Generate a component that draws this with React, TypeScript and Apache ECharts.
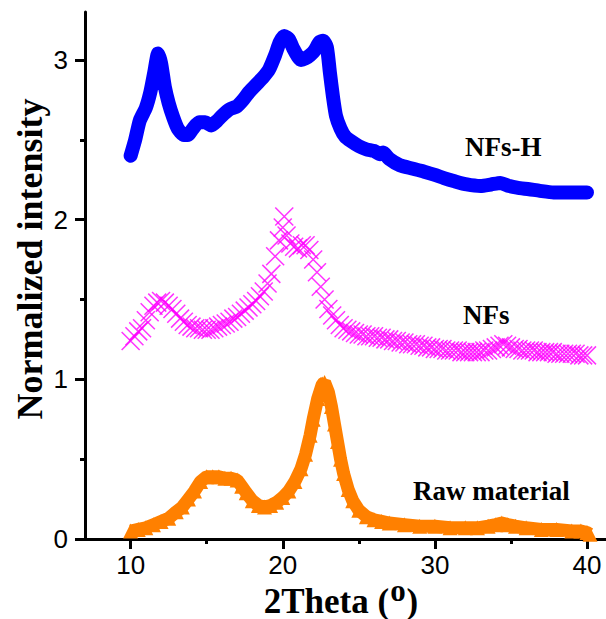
import React, { useEffect, useRef } from "react";
import * as echarts from "echarts";

const seriesNames = ["NFs-H", "NFs", "Raw material"];

const nfsHX = [10.0, 10.3, 10.6, 11.0, 11.3, 11.55, 11.8, 12.0, 12.25, 12.5, 12.8, 13.1, 13.5, 13.75, 14.1, 14.5, 14.9, 15.3, 15.7, 16.0, 16.5, 17.0, 17.4, 17.8, 18.3, 18.7, 19.1, 19.5, 19.8, 20.1, 20.4, 20.7, 21.0, 21.2, 21.5, 21.8, 22.1, 22.4, 22.65, 22.9, 23.1, 23.3, 23.5, 23.8, 24.1, 24.5, 25.0, 25.5, 26.0, 26.4, 26.6, 27.0, 27.7, 28.5, 29.3, 30.0, 30.6, 31.3, 32.1, 33.0, 33.7, 34.3, 34.9, 35.4, 36.2, 36.9, 37.8, 38.7, 39.4, 40.0];
const nfsHY = [2.40, 2.50, 2.62, 2.70, 2.80, 2.92, 3.04, 2.98, 2.83, 2.73, 2.64, 2.57, 2.53, 2.53, 2.57, 2.61, 2.61, 2.59, 2.62, 2.65, 2.69, 2.71, 2.75, 2.80, 2.85, 2.89, 2.94, 3.03, 3.11, 3.15, 3.13, 3.07, 3.02, 3.00, 3.01, 3.03, 3.06, 3.11, 3.12, 3.08, 2.92, 2.77, 2.65, 2.57, 2.52, 2.49, 2.46, 2.44, 2.43, 2.41, 2.42, 2.38, 2.34, 2.32, 2.30, 2.28, 2.26, 2.24, 2.22, 2.21, 2.22, 2.23, 2.21, 2.20, 2.19, 2.18, 2.17, 2.17, 2.17, 2.17];

const nfsX = [10.0, 10.25, 10.5, 10.75, 11.0, 11.25, 11.5, 11.75, 12.0, 12.25, 12.5, 12.75, 13.0, 13.25, 13.5, 13.75, 14.0, 14.25, 14.5, 14.75, 15.0, 15.25, 15.5, 15.75, 16.0, 16.25, 16.5, 16.75, 17.0, 17.25, 17.5, 17.75, 18.0, 18.25, 18.5, 18.75, 19.0, 19.25, 19.5, 19.75, 20.0, 20.1, 20.25, 20.5, 20.75, 21.0, 21.25, 21.5, 21.75, 22.0, 22.25, 22.5, 22.75, 23.0, 23.25, 23.5, 23.75, 24.0, 24.25, 24.5, 24.75, 25.0, 25.25, 25.5, 25.75, 26.0, 26.25, 26.5, 26.75, 27.0, 27.25, 27.5, 27.75, 28.0, 28.25, 28.5, 28.75, 29.0, 29.25, 29.5, 29.75, 30.0, 30.25, 30.5, 30.75, 31.0, 31.25, 31.5, 31.75, 32.0, 32.25, 32.5, 32.75, 33.0, 33.25, 33.5, 33.75, 34.0, 34.25, 34.5, 34.75, 35.0, 35.25, 35.5, 35.75, 36.0, 36.25, 36.5, 36.75, 37.0, 37.25, 37.5, 37.75, 38.0, 38.25, 38.5, 38.75, 39.0, 39.25, 39.5, 39.75, 40.0];
const nfsY = [1.24, 1.27, 1.30, 1.32, 1.37, 1.42, 1.46, 1.48, 1.49, 1.48, 1.46, 1.44, 1.41, 1.38, 1.36, 1.34, 1.33, 1.32, 1.32, 1.31, 1.31, 1.31, 1.32, 1.33, 1.34, 1.35, 1.36, 1.38, 1.39, 1.41, 1.43, 1.45, 1.47, 1.49, 1.52, 1.55, 1.60, 1.66, 1.77, 1.87, 1.95, 2.02, 1.90, 1.85, 1.83, 1.82, 1.84, 1.84, 1.81, 1.75, 1.67, 1.58, 1.50, 1.44, 1.40, 1.37, 1.34, 1.32, 1.31, 1.30, 1.29, 1.28, 1.28, 1.27, 1.27, 1.27, 1.26, 1.26, 1.25, 1.25, 1.24, 1.24, 1.23, 1.23, 1.22, 1.22, 1.22, 1.21, 1.21, 1.20, 1.20, 1.19, 1.19, 1.19, 1.18, 1.18, 1.18, 1.18, 1.17, 1.17, 1.17, 1.17, 1.17, 1.17, 1.18, 1.18, 1.19, 1.20, 1.21, 1.22, 1.21, 1.20, 1.19, 1.19, 1.18, 1.18, 1.18, 1.18, 1.17, 1.17, 1.17, 1.17, 1.17, 1.16, 1.16, 1.16, 1.16, 1.16, 1.16, 1.15, 1.15, 1.15];

const rawX = [10.0, 10.5, 11.0, 11.5, 12.0, 12.5, 13.0, 13.4, 13.8, 14.2, 14.6, 15.0, 15.4, 15.8, 16.2, 16.6, 17.0, 17.3, 17.6, 18.0, 18.4, 18.8, 19.2, 19.6, 20.0, 20.4, 20.8, 21.2, 21.5, 21.8, 22.0, 22.3, 22.6, 22.75, 23.0, 23.2, 23.4, 23.6, 23.8, 24.0, 24.3, 24.6, 25.0, 25.5, 26.0, 26.5, 27.0, 28.0, 29.0, 30.0, 31.0, 32.0, 32.8, 33.5, 34.0, 34.4, 34.8, 35.3, 36.0, 37.0, 38.0, 39.0, 39.6, 40.0, 40.2];
const rawY = [0.05, 0.06, 0.07, 0.09, 0.11, 0.13, 0.17, 0.20, 0.25, 0.30, 0.36, 0.39, 0.39, 0.39, 0.38, 0.38, 0.37, 0.33, 0.29, 0.24, 0.21, 0.20, 0.21, 0.23, 0.26, 0.30, 0.36, 0.44, 0.53, 0.65, 0.75, 0.88, 0.97, 0.98, 0.92, 0.83, 0.72, 0.61, 0.50, 0.41, 0.31, 0.24, 0.18, 0.14, 0.12, 0.11, 0.10, 0.09, 0.08, 0.08, 0.07, 0.07, 0.07, 0.08, 0.09, 0.10, 0.09, 0.08, 0.07, 0.06, 0.06, 0.05, 0.05, 0.04, 0.03];

const xTickValues = [10, 20, 30, 40];
const xMinorTickValues = [15, 25, 35];
const yTickValues = [0, 1, 2, 3];
const yMinorTickValues = [0.5, 1.5, 2.5];

const zip = (xs: number[], ys: number[]) => xs.map((x, i) => [x, ys[i]]);

const SANS = "'Liberation Sans', Arial, sans-serif";
const SERIF = "'Liberation Serif', 'Times New Roman', serif";

export default function App() {
  const ref = useRef<HTMLDivElement>(null);
  useEffect(() => {
    if (!ref.current) return;
    const chart = echarts.init(ref.current, undefined, { renderer: "svg" });
    const axisCommonX = { type: "value", min: 7, max: 41.25, splitLine: { show: false } };
    const axisCommonY = { type: "value", min: 0, max: 3.3, splitLine: { show: false } };
    const labelStyle = { color: "#000", fontSize: 26, fontFamily: SANS };
    const seriesLabel = (text: string, x: number, y: number) => ({
      type: "text",
      x,
      y,
      style: { text, fontFamily: SERIF, fontWeight: "bold", fontSize: 27, fill: "#000", align: "left", verticalAlign: "middle" },
    });
    chart.setOption({
      animation: false,
      backgroundColor: "#fff",
      grid: { left: 85, right: 0, top: 12, bottom: 80 },
      xAxis: [
        {
          ...axisCommonX,
          position: "bottom",
          axisLine: { show: true, lineStyle: { color: "#000", width: 3 } },
          axisTick: { show: true, inside: false, length: 10, customValues: xTickValues, lineStyle: { color: "#000", width: 3 } },
          axisLabel: { ...labelStyle, margin: 13, customValues: xTickValues },
        },
        {
          ...axisCommonX,
          position: "bottom",
          axisLine: { show: false },
          axisTick: { show: true, inside: false, length: 5, customValues: xMinorTickValues, lineStyle: { color: "#000", width: 3 } },
          axisLabel: { show: false },
        },
      ],
      yAxis: [
        {
          ...axisCommonY,
          position: "left",
          axisLine: { show: true, lineStyle: { color: "#000", width: 3 } },
          axisTick: { show: true, inside: false, length: 10, customValues: yTickValues, lineStyle: { color: "#000", width: 3 } },
          axisLabel: { ...labelStyle, margin: 17, customValues: yTickValues },
        },
        {
          ...axisCommonY,
          position: "left",
          axisLine: { show: false },
          axisTick: { show: true, inside: false, length: 5, customValues: yMinorTickValues, lineStyle: { color: "#000", width: 3 } },
          axisLabel: { show: false },
        },
      ],
      series: [
        {
          name: seriesNames[2],
          type: "line",
          data: zip(rawX, rawY),
          symbol: "triangle",
          symbolSize: 15,
          showSymbol: true,
          showAllSymbol: true,
          itemStyle: { color: "#FF8000" },
          lineStyle: { color: "#FF8000", width: 13 },
        },
        {
          name: seriesNames[1],
          type: "scatter",
          data: zip(nfsX, nfsY),
          symbol: "path://M0 0L10 10M10 0L0 10",
          symbolSize: 18,
          itemStyle: { color: "rgba(0,0,0,0)", borderColor: "#FF00FF", borderWidth: 1.5 },
        },
        {
          name: seriesNames[0],
          type: "line",
          data: zip(nfsHX, nfsHY),
          showSymbol: false,
          smooth: 0.2,
          lineStyle: { color: "#0000FF", width: 14, cap: "round", join: "round" },
        },
      ],
      graphic: [
        seriesLabel(seriesNames[0], 465, 147),
        seriesLabel(seriesNames[1], 463, 315),
        seriesLabel(seriesNames[2], 413, 491),
        {
          type: "text",
          x: 341,
          y: 601,
          style: {
            text: "2Theta ({sup|o})",
            fontFamily: SERIF,
            fontWeight: "bold",
            fontSize: 35,
            fill: "#000",
            align: "center",
            verticalAlign: "middle",
            rich: {
              sup: { fontFamily: SERIF, fontWeight: "bold", fontSize: 31, fill: "#000", verticalAlign: "top", padding: [0, 1, 22, 1] },
            },
          },
        },
        {
          type: "text",
          x: 30,
          y: 259,
          rotation: Math.PI / 2,
          style: {
            text: "Normalized intensity",
            fontFamily: SERIF,
            fontWeight: "bold",
            fontSize: 36,
            fill: "#000",
            align: "center",
            verticalAlign: "middle",
          },
        },
      ],
    });
    return () => chart.dispose();
  }, []);
  return <div ref={ref} style={{ width: 606, height: 619, position: "absolute", left: 0, top: 0 }} />;
}
